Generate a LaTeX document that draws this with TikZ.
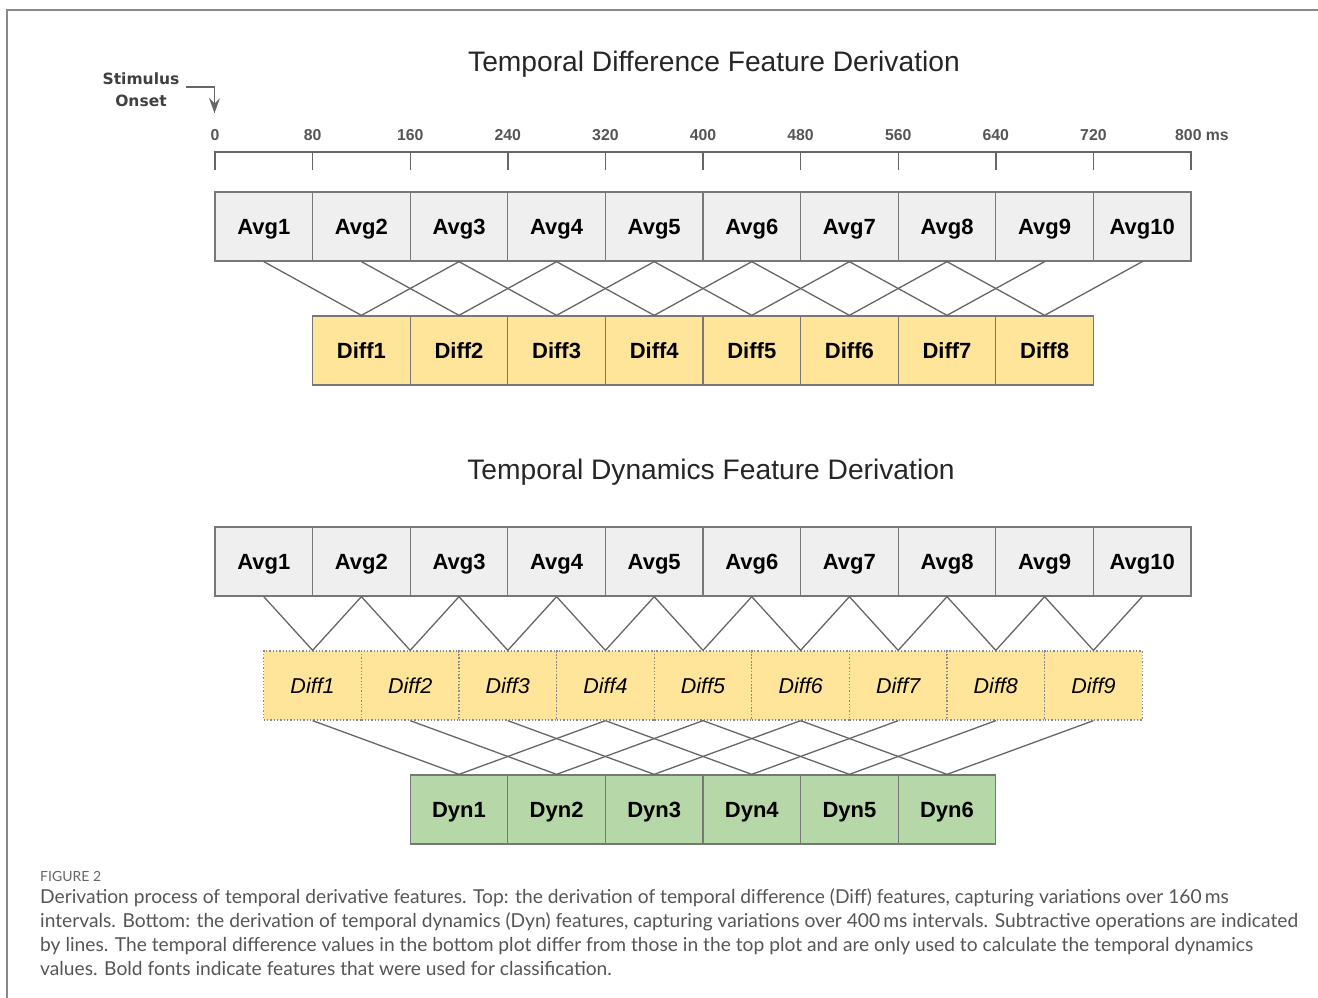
\documentclass[tikz,border=0pt]{standalone}
\usepackage{fontspec}
\setmainfont{Liberation Sans}
\newfontfamily\capfont{Lato}
\newfontfamily\handfont{DejaVu Sans}
\usetikzlibrary{arrows.meta}

\definecolor{avgfill}{HTML}{EFEFEF}
\definecolor{difffill}{HTML}{FFE599}
\definecolor{dynfill}{HTML}{B6D7A8}
\definecolor{boxline}{HTML}{777777}
\definecolor{dotline}{HTML}{8A8A8A}
\definecolor{linkline}{HTML}{666666}
\definecolor{ticktext}{HTML}{555555}
\definecolor{captext}{HTML}{555555}
\definecolor{framegray}{HTML}{888888}

\begin{document}
\begin{tikzpicture}[x=1pt,y=-1pt,
  cell/.style={draw=boxline, line width=1.3pt, minimum width=97.6pt,
    minimum height=69pt, inner sep=0pt, text=black,
    text height=16pt, text depth=0pt,
    font=\fontsize{22}{24}\selectfont\bfseries},
  avgcell/.style={cell, fill=avgfill},
  diffcell/.style={cell, fill=difffill},
  dyncell/.style={cell, fill=dynfill},
  auxcell/.style={cell, fill=difffill, draw=dotline, dotted,
    font=\fontsize{21.5}{24}\selectfont\itshape},
  link/.style={draw=linkline, line width=1.3pt},
  axisline/.style={draw=linkline, line width=1.4pt},
  ticklabel/.style={text=ticktext, inner sep=0pt,
    font=\fontsize{15.8}{17}\selectfont\bfseries},
  heading/.style={text=black!85, inner sep=0pt,
    font=\fontsize{28.2}{30}\selectfont}
]
\useasboundingbox (0,0) rectangle (1318,998);

% open frame: top and left edges
\draw[framegray, line width=1.5pt] (1318,10) -- (7,10) -- (7,998);

% ---------- Temporal difference ----------
\node[heading] (title1) at (714,64) {Temporal Difference Feature Derivation};

% time axis
\draw[axisline] (215,152) -- (1191,152);
\foreach \k in {0,...,10}
  \draw[axisline] ({215+97.6*\k},151.3) -- ++(0,18.7);
\foreach \k/\t in {0/0,1/80,2/160,3/240,4/320,5/400,6/480,7/560,8/640,9/720}
  \node[ticklabel] (t\k) at ({215+97.6*\k},135) {\t};
\node[ticklabel, anchor=west] (t10) at (1175,135) {800 ms};

% stimulus onset marker
\node[text=black!75, align=center, inner sep=0pt,
  font=\handfont\fontsize{15.5}{22}\selectfont\bfseries] (stim) at (141,90) {Stimulus\\Onset};
\coordinate (stimtail) at (186,87);
\coordinate (onset) at (214.5,113);
\draw[linkline, line width=1.4pt] (stimtail) -| (onset);
\fill[linkline] (onset) -- ++(-5.5,-15) -- ++(5.5,5.5) -- ++(5.5,-5.5) -- cycle;

\foreach \i in {1,...,10}
  \node[avgcell] (a\i) at ({215+97.6*(\i-0.5)},226.5) {Avg\i};
\foreach \i in {1,...,8}
  \node[diffcell] (d\i) at ({215+97.6*(\i+0.5)},350.5) {Diff\i};
\foreach \i [evaluate=\i as \j using int(\i+2)] in {1,...,8}
  \draw[link] (a\i.south) -- (d\i.north) (a\j.south) -- (d\i.north);

% ---------- Temporal dynamics ----------
\node[heading] (title2) at (711,472) {Temporal Dynamics Feature Derivation};

\foreach \i in {1,...,10}
  \node[avgcell] (b\i) at ({215+97.6*(\i-0.5)},561.5) {Avg\i};
\foreach \i in {1,...,9}
  \node[auxcell] (e\i) at ({215+97.6*\i},685.5) {Diff\i};
\foreach \i in {1,...,6}
  \node[dyncell] (g\i) at ({215+97.6*(\i+1.5)},809.5) {Dyn\i};
\foreach \i [evaluate=\i as \j using int(\i+1)] in {1,...,9}
  \draw[link] (b\i.south) -- (e\i.north) (b\j.south) -- (e\i.north);
\foreach \i [evaluate=\i as \j using int(\i+3)] in {1,...,6}
  \draw[link] (e\i.south) -- (g\i.north) (e\j.south) -- (g\i.north);

% ---------- caption ----------
\node[anchor=west, inner sep=0pt, text=black!60,
  font=\capfont\fontsize{14}{16}\selectfont] (fig) at (40,876) {FIGURE 2};
\node[anchor=north west, inner sep=0pt, align=left, text=captext,
  font=\capfont\fontsize{19.2}{24}\selectfont] (cap) at (40,888)
  {Derivation process of temporal derivative features. Top: the derivation of temporal difference (Diff) features, capturing variations over 160\,ms\\
   intervals. Bottom: the derivation of temporal dynamics (Dyn) features, capturing variations over 400\,ms intervals. Subtractive operations are indicated\\
   by lines. The temporal difference values in the bottom plot differ from those in the top plot and are only used to calculate the temporal dynamics\\
   values. Bold fonts indicate features that were used for classification.};
\end{tikzpicture}
\end{document}
